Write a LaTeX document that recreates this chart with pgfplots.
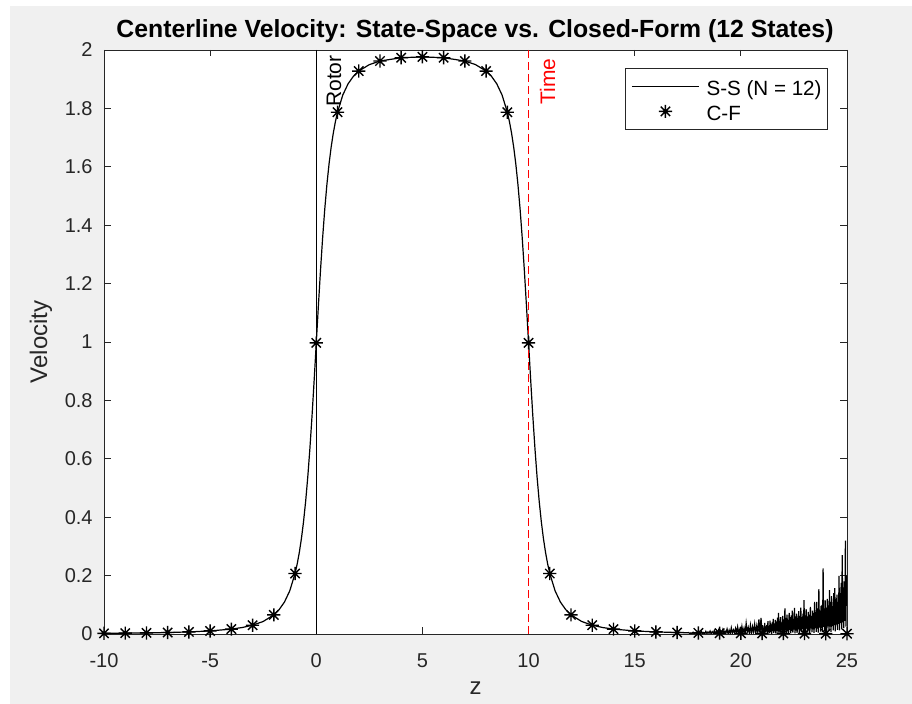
\documentclass[border=0pt]{standalone}
\usepackage{pgfplots}
\pgfplotsset{compat=1.18}
\usepackage{fontspec}
\setmainfont{Liberation Sans}
\definecolor{figbg}{RGB}{240,240,240}
\definecolor{axc}{RGB}{38,38,38}

% MATLAB-like '*' marker (plus and cross overlaid)
\pgfdeclareplotmark{mstar}{%
  \pgfpathmoveto{\pgfqpoint{0pt}{\pgfplotmarksize}}%
  \pgfpathlineto{\pgfqpoint{0pt}{-\pgfplotmarksize}}%
  \pgfpathmoveto{\pgfqpoint{\pgfplotmarksize}{0pt}}%
  \pgfpathlineto{\pgfqpoint{-\pgfplotmarksize}{0pt}}%
  \pgfpathmoveto{\pgfqpoint{0.707\pgfplotmarksize}{0.707\pgfplotmarksize}}%
  \pgfpathlineto{\pgfqpoint{-0.707\pgfplotmarksize}{-0.707\pgfplotmarksize}}%
  \pgfpathmoveto{\pgfqpoint{-0.707\pgfplotmarksize}{0.707\pgfplotmarksize}}%
  \pgfpathlineto{\pgfqpoint{0.707\pgfplotmarksize}{-0.707\pgfplotmarksize}}%
  \pgfusepathqstroke}

\pgfplotstableread{
z v
-10 0.0022
-9 0.0029
-8 0.0037
-7 0.0050
-6 0.0071
-5 0.0105
-4 0.0167
-3 0.0300
-2 0.0654
-1 0.2070
0 0.9970
1 1.7869
2 1.9278
3 1.9622
4 1.9735
5 1.9764
6 1.9735
7 1.9622
8 1.9278
9 1.7869
10 0.9970
11 0.2070
12 0.0654
13 0.0300
14 0.0167
15 0.0105
16 0.0071
17 0.0050
18 0.0037
19 0.0029
20 0.0022
21 0.0018
22 0.0015
23 0.0012
24 0.0010
25 0.0009
}\cfdata

\pgfplotstableread{
z v
-10 0.0022
-9 0.0029
-8 0.0037
-7 0.0050
-6 0.0071
-5 0.0105
-4 0.0167
-3.5 0.0220
-3 0.0300
-2.5 0.0429
-2 0.0654
-1.75 0.0835
-1.5 0.1093
-1.25 0.1477
-1 0.2070
-0.9 0.2395
-0.8 0.2790
-0.7 0.3269
-0.6 0.3850
-0.5 0.4550
-0.4 0.5384
-0.3 0.6359
-0.2 0.7471
-0.1 0.8690
0 0.9970
0.1 1.1250
0.2 1.2469
0.3 1.3580
0.4 1.4555
0.5 1.5390
0.6 1.6090
0.7 1.6670
0.8 1.7148
0.9 1.7543
1 1.7869
1.25 1.8461
1.5 1.8844
1.75 1.9101
2 1.9278
2.5 1.9499
3 1.9622
4 1.9735
5 1.9764
6 1.9735
7 1.9622
7.5 1.9499
8 1.9278
8.25 1.9101
8.5 1.8844
8.75 1.8461
9 1.7869
9.1 1.7543
9.2 1.7148
9.3 1.6670
9.4 1.6090
9.5 1.5390
9.6 1.4555
9.7 1.3580
9.8 1.2469
9.9 1.1250
10 0.9970
10.1 0.8690
10.2 0.7471
10.3 0.6359
10.4 0.5384
10.5 0.4550
10.6 0.3850
10.7 0.3269
10.8 0.2790
10.9 0.2395
11 0.2070
11.25 0.1477
11.5 0.1093
11.75 0.0835
12 0.0654
12.5 0.0429
13 0.0300
13.5 0.0220
14 0.0167
15 0.0105
16 0.0071
17 0.0050
17.50 0.0043
17.55 0.005
17.60 0.000
17.65 0.004
17.70 0.001
17.75 0.006
17.80 0.000
17.85 0.005
17.90 0.002
17.95 0.007
18.00 0.000
18.05 0.006
18.10 0.001
18.15 0.008
18.20 0.002
18.25 0.005
18.30 0.000
18.35 0.009
18.40 0.001
18.45 0.007
18.50 0.002
18.55 0.010
18.60 0.000
18.65 0.008
18.70 0.003
18.75 0.012
18.80 0.001
18.85 0.009
18.90 0.002
18.95 0.013
19.00 0.000
19.05 0.011
19.10 0.003
19.15 0.015
19.20 0.001
19.25 0.010
19.30 0.004
19.35 0.017
19.40 0.000
19.45 0.013
19.50 0.002
19.55 0.021
19.60 0.001
19.65 0.014
19.70 0.005
19.75 0.019
19.80 0.000
19.85 0.024
19.90 0.003
19.95 0.016
20.00 0.001
20.05 0.026
20.10 0.004
20.15 0.020
20.20 0.000
20.25 0.037
20.30 0.006
20.35 0.022
20.40 0.002
20.45 0.030
20.50 0.000
20.55 0.025
20.60 0.007
20.65 0.034
20.70 0.001
20.75 0.028
20.80 0.005
20.85 0.050
20.90 0.002
20.95 0.055
21.000 0.004
21.025 0.030
21.050 0.002
21.075 0.022
21.100 0.000
21.125 0.038
21.150 0.005
21.175 0.026
21.200 0.008
21.225 0.031
21.250 0.001
21.275 0.044
21.300 0.006
21.325 0.028
21.350 0.002
21.375 0.046
21.400 0.007
21.425 0.033
21.450 0.000
21.475 0.040
21.500 0.010
21.525 0.052
21.550 0.003
21.575 0.036
21.600 0.009
21.625 0.048
21.650 0.001
21.675 0.042
21.700 0.011
21.725 0.056
21.750 0.004
21.775 0.072
21.800 0.008
21.825 0.045
21.850 0.002
21.875 0.058
21.900 0.012
21.925 0.040
21.950 0.003
21.975 0.062
22.000 0.010
22.025 0.050
22.050 0.004
22.075 0.088
22.100 0.013
22.125 0.055
22.150 0.001
22.175 0.066
22.200 0.009
22.225 0.048
22.250 0.003
22.275 0.072
22.300 0.014
22.325 0.058
22.350 0.002
22.375 0.064
22.400 0.011
22.425 0.080
22.450 0.005
22.475 0.052
22.500 0.015
22.525 0.089
22.550 0.002
22.575 0.060
22.600 0.012
22.625 0.070
22.650 0.004
22.675 0.055
22.700 0.016
22.725 0.078
22.750 0.003
22.775 0.062
22.800 0.013
22.825 0.090
22.850 0.006
22.875 0.058
22.900 0.017
22.925 0.070
22.950 0.004
22.975 0.116
23.000 0.014
23.025 0.064
23.050 0.002
23.075 0.085
23.100 0.018
23.125 0.060
23.150 0.005
23.175 0.076
23.200 0.015
23.225 0.066
23.250 0.003
23.275 0.093
23.300 0.019
23.325 0.062
23.350 0.006
23.375 0.080
23.400 0.016
23.425 0.072
23.450 0.004
23.475 0.110
23.500 0.020
23.525 0.075
23.550 0.007
23.575 0.110
23.600 0.018
23.625 0.088
23.650 0.005
23.675 0.154
23.700 0.022
23.725 0.080
23.750 0.008
23.775 0.096
23.800 0.020
23.825 0.100
23.850 0.006
23.875 0.225
23.900 0.024
23.925 0.085
23.950 0.009
23.975 0.115
24.000 0.022
24.025 0.090
24.050 0.005
24.075 0.120
24.100 0.026
24.125 0.098
24.150 0.010
24.175 0.150
24.200 0.025
24.225 0.110
24.250 0.007
24.275 0.130
24.300 0.028
24.325 0.095
24.350 0.012
24.375 0.140
24.400 0.030
24.425 0.157
24.450 0.009
24.475 0.120
24.500 0.032
24.525 0.135
24.550 0.014
24.575 0.110
24.600 0.035
24.625 0.199
24.650 0.012
24.675 0.140
24.700 0.038
24.725 0.175
24.750 0.016
24.775 0.270
24.800 0.040
24.825 0.160
24.850 0.020
24.875 0.180
24.900 0.045
24.925 0.320
24.950 0.025
24.975 0.200
25.000 0.150
}\ssdata

\begin{document}
\begin{tikzpicture}[x=1pt,y=1pt]
\fill[white] (0,0) rectangle (456,352);
\fill[figbg] (5,0) rectangle (456,349);
\begin{axis}[
  at={(52pt,35pt)}, anchor=south west,
  scale only axis, width=371.5pt, height=292pt,
  xmin=-10, xmax=25, ymin=0, ymax=2,
  xtick={-10,-5,0,5,10,15,20,25},
  xticklabels={-10,-5,0,5,10,15,20,25},
  ytick={0,0.2,0.4,0.6,0.8,1,1.2,1.4,1.6,1.8,2},
  /pgf/number format/assume math mode=true,
  tick align=inside, tick pos=both,
  major tick length=3.25pt,
  axis line style={axc, line width=0.4pt},
  every tick/.style={axc, line width=0.4pt},
  axis background/.style={fill=white},
  tick label style={font=\fontsize{10}{12}\selectfont, text=axc},
  xticklabel style={anchor=base, yshift=-17pt, inner sep=0pt},
  yticklabel style={anchor=east, xshift=-5.5pt, inner sep=0pt},
  legend cell align=left,
  legend image code/.code={%
    \draw[mark repeat=2,mark phase=2] plot coordinates {(0pt,0pt) (16.75pt,0pt) (33.5pt,0pt)};},
  legend style={at={(0.9744,0.9692)}, anchor=north east, draw=axc, line width=0.4pt,
    fill=white, font=\fontsize{10.3}{12}\selectfont, inner xsep=3pt, inner ysep=2.75pt,
    row sep=0pt, column sep=3.5pt,
    nodes={inner xsep=0pt, inner ysep=1.5pt, text height=9.3pt, text depth=0.2pt}},
]
\addplot[black, line width=0.6pt] table[x=z, y=v] {\ssdata};
\addlegendentry{S-S (N = 12)}
\addplot[black, only marks, mark=mstar, mark size=3.3pt, mark options={line width=0.7pt}] table[x=z, y=v] {\cfdata};
\addlegendentry{C-F}
\addplot[black, line width=0.5pt, forget plot] coordinates {(0,0) (0,2)};
\addplot[red, line width=0.5pt, dash pattern=on 4pt off 2pt, forget plot] coordinates {(10,0) (10,2)};
\node[rotate=90, anchor=north east, inner sep=0pt, font=\fontsize{10.5}{12}\selectfont, text=black] at ([xshift=5pt,yshift=-2.5pt]axis cs:0,2) {Rotor};
\node[rotate=90, anchor=north east, inner sep=0pt, font=\fontsize{10.5}{12}\selectfont, text=red] at ([xshift=5.5pt,yshift=-4pt]axis cs:10,2) {Time};
\end{axis}
\node[anchor=base, font=\bfseries\fontsize{12.4}{14}\selectfont] at (237.5,333) {Centerline Velocity: State-Space vs. Closed-Form (12 States)};
\node[anchor=base, font=\fontsize{12}{14}\selectfont, text=axc] at (237.75,4.5) {z};
\node[rotate=90, anchor=base, font=\fontsize{12}{14}\selectfont, text=axc] at (23.5,181) {Velocity};
\end{tikzpicture}
\end{document}
